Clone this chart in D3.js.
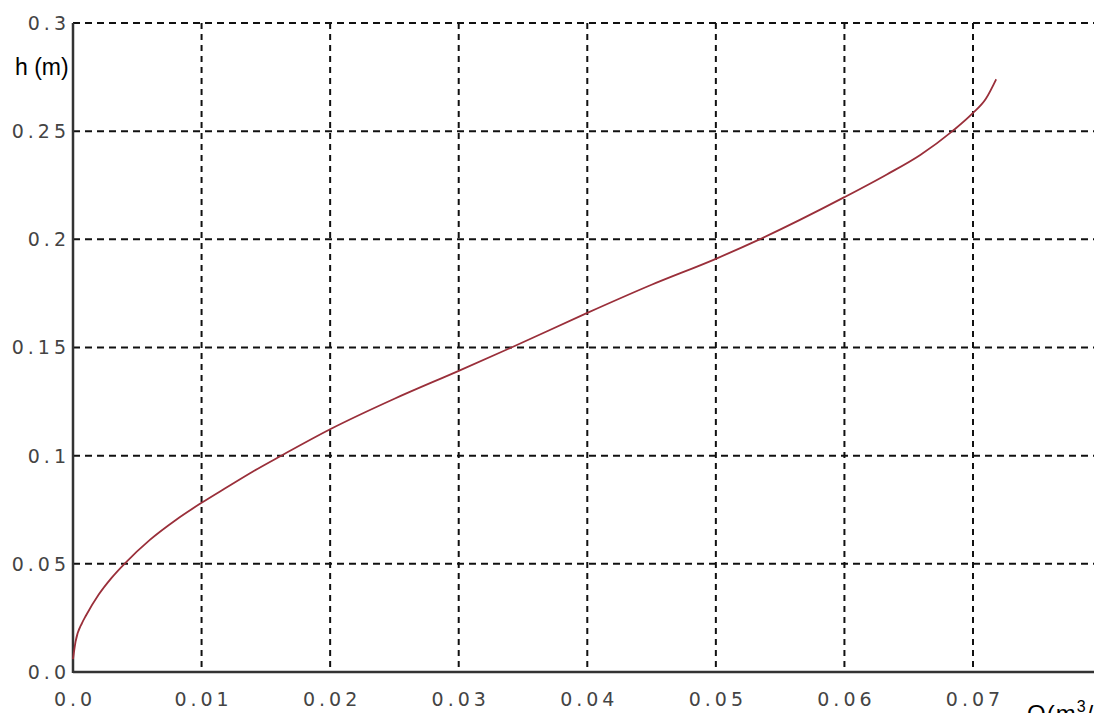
<!DOCTYPE html>
<html><head><meta charset="utf-8">
<script src="https://cdn.jsdelivr.net/npm/d3@7"></script>
<style>body{margin:0;background:#fff;overflow:hidden}svg{display:block}</style>
</head><body><svg id="c" width="1094" height="713"></svg>
<script>
const Q = [0, 0.0002, 0.0007, 0.001, 0.002, 0.003, 0.004, 0.006, 0.008, 0.01, 0.012, 0.014, 0.0162, 0.02, 0.025, 0.03, 0.0341, 0.04, 0.045, 0.05, 0.0534, 0.06, 0.0633, 0.0659, 0.0684, 0.07, 0.071, 0.0718];
const H = [0.006, 0.014, 0.0226, 0.026, 0.0358, 0.0435, 0.05, 0.0612, 0.0703, 0.0782, 0.0855, 0.0927, 0.1, 0.1122, 0.1263, 0.1392, 0.15, 0.166, 0.179, 0.191, 0.2, 0.2195, 0.23, 0.239, 0.25, 0.2584, 0.265, 0.274];
const xTicks = [0, 0.01, 0.02, 0.03, 0.04, 0.05, 0.06, 0.07];
const xTickLabels = ["0.0", "0.01", "0.02", "0.03", "0.04", "0.05", "0.06", "0.07"];
const yTicks = [0, 0.05, 0.1, 0.15, 0.2, 0.25, 0.3];
const yTickLabels = ["0.0", "0.05", "0.1", "0.15", "0.2", "0.25", "0.3"];

const svg = d3.select("#c");
const x = d3.scaleLinear().domain([0, 0.07]).range([73, 973]);
const y = d3.scaleLinear().domain([0, 0.3]).range([672, 23]);
const xMax = 1094;

// grid
svg.append("g").selectAll("line").data(xTicks.slice(1)).join("line")
  .attr("x1", d => x(d)).attr("x2", d => x(d)).attr("y1", y(0.3)).attr("y2", y(0))
  .attr("stroke", "#111").attr("stroke-width", 2).attr("stroke-dasharray", "6,5");
svg.append("g").selectAll("line").data(yTicks.slice(1)).join("line")
  .attr("x1", x(0)).attr("x2", xMax).attr("y1", d => y(d)).attr("y2", d => y(d))
  .attr("stroke", "#111").attr("stroke-width", 2).attr("stroke-dasharray", "7,5");

// axes lines
svg.append("line").attr("x1", x(0)).attr("x2", x(0)).attr("y1", y(0.3)).attr("y2", y(0) + 1)
  .attr("stroke", "#333").attr("stroke-width", 2.5);
svg.append("line").attr("x1", x(0)).attr("x2", xMax).attr("y1", y(0)).attr("y2", y(0))
  .attr("stroke", "#333").attr("stroke-width", 2.5);

// tick labels
const tf = "'DejaVu Sans', Verdana, sans-serif";
svg.append("g").selectAll("text").data(yTicks).join("text")
  .attr("x", 70).attr("y", d => y(d)).attr("dy", "0.36em")
  .attr("text-anchor", "end").attr("font-family", tf).attr("font-size", 19)
  .attr("letter-spacing", 4).attr("fill", "#444").text((d, i) => yTickLabels[i]);
svg.append("g").selectAll("text").data(xTicks).join("text")
  .attr("x", d => x(d) + 2).attr("y", 706)
  .attr("text-anchor", "middle").attr("font-family", tf).attr("font-size", 19)
  .attr("letter-spacing", 4).attr("fill", "#444").text((d, i) => xTickLabels[i]);

// axis titles
svg.append("text").attr("x", 15).attr("y", 75).attr("font-family", "Arial, 'Liberation Sans', sans-serif")
  .attr("font-size", 23).attr("fill", "#000").text("h (m)");
const qt = svg.append("text").attr("x", 1027).attr("y", 722).attr("font-family", "Arial, 'Liberation Sans', sans-serif")
  .attr("font-size", 24).attr("letter-spacing", 1).attr("fill", "#000");
qt.append("tspan").text("Q(m");
qt.append("tspan").attr("dy", -10).attr("font-size", 16).text("3");
qt.append("tspan").attr("dy", 10).text("/s)");

// curve
const pts = Q.map((q, i) => [q, H[i]]);
svg.append("path").datum(pts)
  .attr("d", d3.line().x(d => x(d[0])).y(d => y(d[1])).curve(d3.curveMonotoneX))
  .attr("fill", "none").attr("stroke", "#9a2f3a").attr("stroke-width", 1.8);
</script></body></html>
